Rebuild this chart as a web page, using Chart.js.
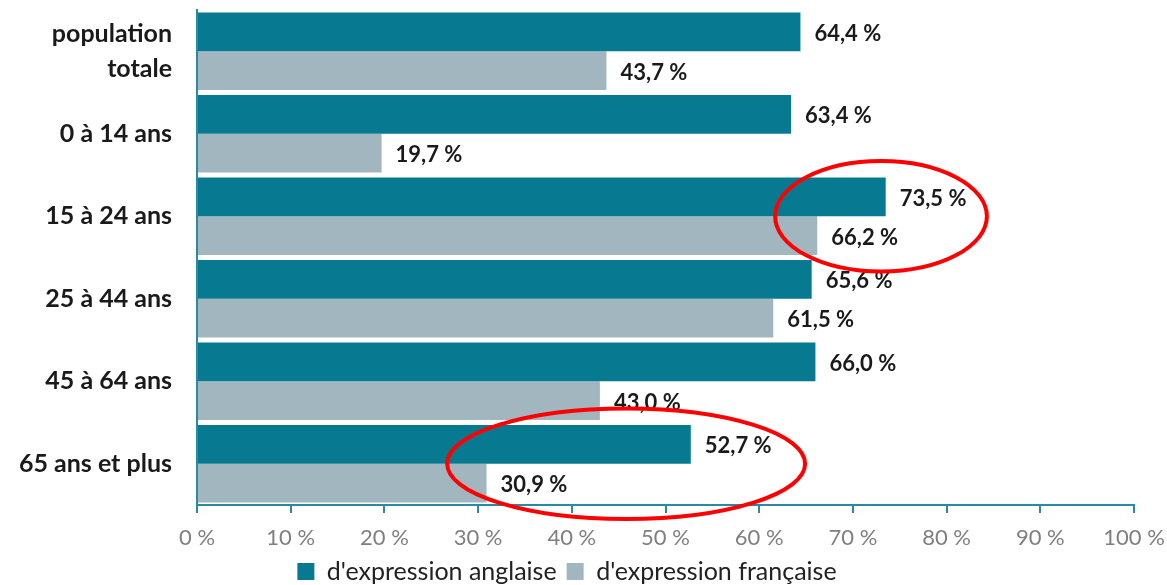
<!DOCTYPE html>
<html>
<head>
<meta charset="utf-8">
<script src="https://cdn.jsdelivr.net/npm/chart.js@4"></script>
<style>
  html, body { margin: 0; padding: 0; background: #fff; }
  .wrap { width: 1167px; height: 585px; }
</style>
</head>
<body>
<div class="wrap"><canvas class="bar-chart"></canvas></div>
<script>
      const categories = [
        ["population", "totale"],
        "0 à 14 ans",
        "15 à 24 ans",
        "25 à 44 ans",
        "45 à 64 ans",
        "65 ans et plus",
      ];
      const anglaise = [64.4, 63.4, 73.5, 65.6, 66.0, 52.7];
      const francaise = [43.7, 19.7, 66.2, 61.5, 43.0, 30.9];
      const xTicks = [0, 10, 20, 30, 40, 50, 60, 70, 80, 90, 100];
      // red circles: category index, centre value, half-width in %, half-height in categories
      const highlights = [
        { cat: 2, x: 73.0, rx: 11.3, ry: 0.67 },
        { cat: 5, x: 45.8, rx: 19.1, ry: 0.67 },
      ];

      const FONT = "Lato, 'Open Sans', sans-serif";
      const fmt = (v) => v.toFixed(1).replace(".", ",") + " %";

      //VALUE LABELS
      const valueLabels = {
        id: "valueLabels",
        afterDatasetsDraw(chart) {
          const c = chart.ctx;
          c.save();
          c.font = "bold 22px " + FONT;
          c.fillStyle = "#1a1a1a";
          c.textBaseline = "middle";
          c.textAlign = "left";
          chart.data.datasets.forEach((ds, i) => {
            chart.getDatasetMeta(i).data.forEach((bar, j) => {
              c.fillText(fmt(ds.data[j]), bar.x + 14, bar.y + 2);
            });
          });
          c.restore();
        },
      };

      //RED ELLIPSES
      const ellipses = {
        id: "ellipses",
        afterDraw(chart) {
          const c = chart.ctx;
          const xs = chart.scales.x;
          const ys = chart.scales.y;
          const step = ys.getPixelForValue(1) - ys.getPixelForValue(0);
          c.save();
          c.strokeStyle = "#ff0000";
          c.lineWidth = 4;
          highlights.forEach((h) => {
            const cx = xs.getPixelForValue(h.x);
            const rx = xs.getPixelForValue(h.x + h.rx) - cx;
            const cy = ys.getPixelForValue(h.cat);
            c.beginPath();
            c.ellipse(cx, cy, rx, Math.abs(step) * h.ry, 0, 0, Math.PI * 2);
            c.stroke();
          });
          c.restore();
        },
      };

      const ctx = document.querySelector(".bar-chart").getContext("2d");

      new Chart(ctx, {
        type: "bar",
        data: {
          labels: categories,
          datasets: [
            {
              label: "d'expression anglaise",
              data: anglaise,
              backgroundColor: "#077a92",
              categoryPercentage: 0.94,
              barPercentage: 1.0,
            },
            {
              label: "d'expression française",
              data: francaise,
              backgroundColor: "#a2b6c0",
              categoryPercentage: 0.94,
              barPercentage: 1.0,
            },
          ],
        },
        options: {
          indexAxis: "y",
          maintainAspectRatio: false,
          responsive: true,
          animation: false,
          layout: {
            padding: { top: 10, right: 33, bottom: -9, left: 0 },
          },
          plugins: {
            legend: {
              position: "bottom",
              labels: {
                boxWidth: 17,
                boxHeight: 17,
                padding: 10,
                color: "#222",
                font: { family: FONT, size: 25 },
              },
            },
            tooltip: { enabled: false },
          },
          scales: {
            x: {
              min: 0,
              max: 100,
              afterBuildTicks: (s) => {
                s.ticks = xTicks.map((v) => ({ value: v }));
              },
              afterFit: (s) => {
                s.height = 44;
                s.paddingLeft = 0;
                s.paddingRight = 0;
              },
              border: { color: "#2a8aa0", width: 2 },
              grid: {
                drawOnChartArea: false,
                drawTicks: true,
                tickLength: 8,
                color: "#2a8aa0",
                lineWidth: 2,
              },
              ticks: {
                color: "#7f7f7f",
                padding: 12,
                font: { family: FONT, size: 22 },
                callback: (v) => v + " %",
              },
            },
            y: {
              afterFit: (s) => {
                s.width = 197;
                s.paddingTop = 0;
                s.paddingBottom = 0;
              },
              border: { color: "#2a8aa0", width: 2 },
              grid: { display: false },
              ticks: {
                color: "#1a1a1a",
                padding: 17,
                font: { family: FONT, size: 25, weight: "bold", lineHeight: 1.4 },
              },
            },
          },
        },
        plugins: [valueLabels, ellipses],
      });
</script>
</body>
</html>
